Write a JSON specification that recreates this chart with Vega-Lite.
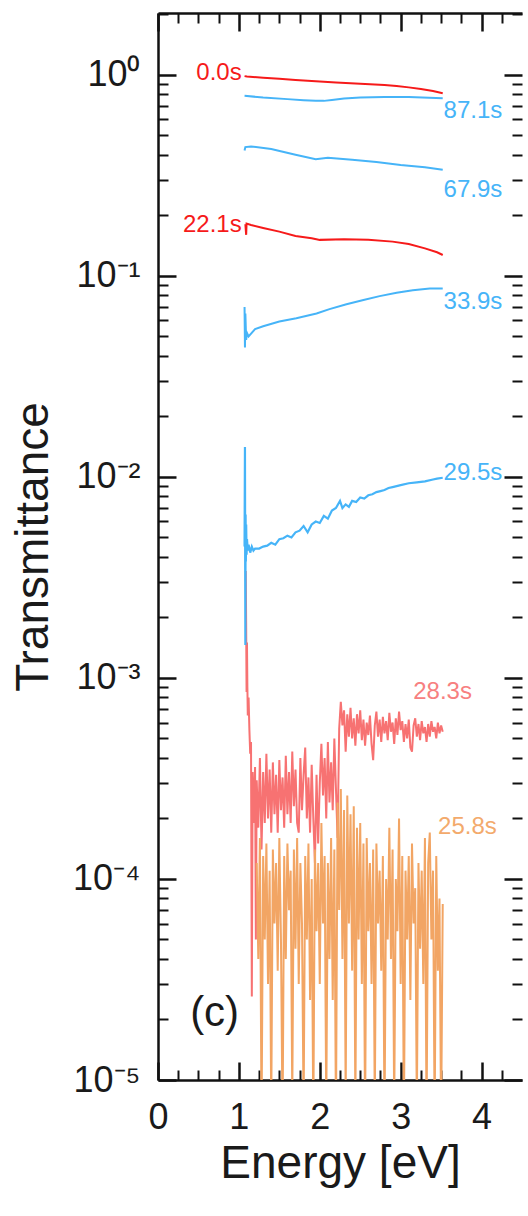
{
"$schema": "https://vega.github.io/schema/vega-lite/v6.json",
"width": 364,
"height": 1067,
"autosize": {"type": "none"},
"padding": {"left": 158, "top": 13, "right": 6, "bottom": 136},
"config": {"view": {"stroke": null}, "font": "Liberation Sans", "axis": {"grid": false}},
"datasets": {
"s00": [{"e":1.07,"t":0.985},{"e":1.1,"t":0.98},{"e":1.3,"t":0.968},{"e":1.5,"t":0.955},{"e":1.7,"t":0.942},{"e":1.9,"t":0.932},{"e":2.0,"t":0.926},{"e":2.2,"t":0.915},{"e":2.5,"t":0.902},{"e":2.8,"t":0.89},{"e":2.95,"t":0.88},{"e":3.1,"t":0.866},{"e":3.25,"t":0.849},{"e":3.4,"t":0.83},{"e":3.52,"t":0.81}],
"s871": [{"e":1.07,"t":0.786},{"e":1.3,"t":0.771},{"e":1.6,"t":0.757},{"e":1.8,"t":0.748},{"e":1.95,"t":0.743},{"e":2.05,"t":0.742},{"e":2.15,"t":0.75},{"e":2.3,"t":0.762},{"e":2.5,"t":0.771},{"e":2.8,"t":0.775},{"e":3.1,"t":0.775},{"e":3.52,"t":0.765}],
"s679": [{"e":1.07,"t":0.42},{"e":1.08,"t":0.437},{"e":1.15,"t":0.44},{"e":1.4,"t":0.428},{"e":1.7,"t":0.40},{"e":1.95,"t":0.38},{"e":2.1,"t":0.387},{"e":2.4,"t":0.378},{"e":2.7,"t":0.368},{"e":3.0,"t":0.356},{"e":3.3,"t":0.347},{"e":3.52,"t":0.337}],
"s221": [{"e":1.08,"t":0.181},{"e":1.09,"t":0.16},{"e":1.095,"t":0.182},{"e":1.15,"t":0.179},{"e":1.3,"t":0.173},{"e":1.5,"t":0.166},{"e":1.7,"t":0.158},{"e":1.9,"t":0.154},{"e":2.0,"t":0.151},{"e":2.3,"t":0.152},{"e":2.6,"t":0.151},{"e":2.9,"t":0.148},{"e":3.1,"t":0.144},{"e":3.3,"t":0.137},{"e":3.45,"t":0.131},{"e":3.52,"t":0.127}],
"s339": [{"e":1.07,"t":0.07},{"e":1.075,"t":0.044},{"e":1.08,"t":0.065},{"e":1.09,"t":0.048},{"e":1.1,"t":0.052},{"e":1.12,"t":0.05},{"e":1.2,"t":0.0543},{"e":1.3,"t":0.0561},{"e":1.5,"t":0.0593},{"e":1.71,"t":0.0616},{"e":1.96,"t":0.065},{"e":2.12,"t":0.0683},{"e":2.33,"t":0.0722},{"e":2.54,"t":0.0758},{"e":2.74,"t":0.0793},{"e":2.95,"t":0.0824},{"e":3.15,"t":0.0849},{"e":3.36,"t":0.0865},{"e":3.52,"t":0.0866}],
"s295": [{"e":1.07,"t":0.0045},{"e":1.075,"t":0.0141},{"e":1.078,"t":0.0035},{"e":1.08,"t":0.00146},{"e":1.083,"t":0.0065},{"e":1.086,"t":0.0038},{"e":1.09,"t":0.0058},{"e":1.095,"t":0.0041},{"e":1.1,"t":0.0049},{"e":1.11,"t":0.0043},{"e":1.12,"t":0.0046},{"e":1.14,"t":0.0042},{"e":1.16,"t":0.0045},{"e":1.18,"t":0.0043},{"e":1.2,"t":0.0044},{"e":1.25,"t":0.0044},{"e":1.3,"t":0.0045},{"e":1.35,"t":0.00455},{"e":1.4,"t":0.0047},{"e":1.45,"t":0.0046},{"e":1.5,"t":0.0049},{"e":1.55,"t":0.00495},{"e":1.6,"t":0.0051},{"e":1.65,"t":0.005},{"e":1.7,"t":0.0053},{"e":1.75,"t":0.0054},{"e":1.8,"t":0.0057},{"e":1.85,"t":0.0053},{"e":1.9,"t":0.0058},{"e":1.95,"t":0.006},{"e":2.0,"t":0.0059},{"e":2.05,"t":0.0064},{"e":2.1,"t":0.0062},{"e":2.15,"t":0.0068},{"e":2.2,"t":0.007},{"e":2.25,"t":0.0076},{"e":2.28,"t":0.007},{"e":2.32,"t":0.0073},{"e":2.36,"t":0.0071},{"e":2.4,"t":0.0076},{"e":2.45,"t":0.0075},{"e":2.5,"t":0.0079},{"e":2.55,"t":0.0078},{"e":2.6,"t":0.0081},{"e":2.65,"t":0.0082},{"e":2.7,"t":0.0084},{"e":2.75,"t":0.0085},{"e":2.8,"t":0.0086},{"e":2.85,"t":0.0088},{"e":2.9,"t":0.0089},{"e":2.95,"t":0.009},{"e":3.0,"t":0.0091},{"e":3.1,"t":0.0093},{"e":3.2,"t":0.0094},{"e":3.3,"t":0.0095},{"e":3.4,"t":0.0097},{"e":3.45,"t":0.0098},{"e":3.52,"t":0.0099}],
"s283": [{"e":1.085,"t":0.0034},{"e":1.09,"t":0.0018},{"e":1.095,"t":0.00085},{"e":1.1,"t":0.0015},{"e":1.105,"t":0.0009},{"e":1.11,"t":0.00065},{"e":1.12,"t":0.0008},{"e":1.13,"t":0.00055},{"e":1.14,"t":0.00042},{"e":1.15,"t":0.00048},{"e":1.16,"t":0.000026},{"e":1.17,"t":0.00034},{"e":1.18,"t":0.00019},{"e":1.2,"t":0.00036},{"e":1.21,"t":0.00005},{"e":1.22,"t":0.00031},{"e":1.24,"t":0.00018},{"e":1.26,"t":0.0004},{"e":1.28,"t":0.00014},{"e":1.3,"t":0.00034},{"e":1.32,"t":0.00019},{"e":1.34,"t":0.00042},{"e":1.36,"t":0.0002},{"e":1.38,"t":0.00035},{"e":1.4,"t":0.00017},{"e":1.42,"t":0.00038},{"e":1.44,"t":0.00021},{"e":1.46,"t":0.00033},{"e":1.48,"t":0.00017},{"e":1.5,"t":0.00039},{"e":1.52,"t":0.00022},{"e":1.54,"t":0.00032},{"e":1.56,"t":0.00018},{"e":1.58,"t":0.00041},{"e":1.6,"t":0.00021},{"e":1.62,"t":0.00034},{"e":1.64,"t":0.00019},{"e":1.66,"t":0.00043},{"e":1.68,"t":0.00023},{"e":1.7,"t":0.00035},{"e":1.72,"t":0.00019},{"e":1.74,"t":0.00017},{"e":1.76,"t":0.0004},{"e":1.78,"t":0.00022},{"e":1.8,"t":0.00033},{"e":1.82,"t":0.00045},{"e":1.84,"t":0.0002},{"e":1.86,"t":0.00032},{"e":1.88,"t":0.00017},{"e":1.9,"t":0.00037},{"e":1.92,"t":0.0002},{"e":1.94,"t":0.00012},{"e":1.96,"t":0.00033},{"e":1.98,"t":0.00015},{"e":2.0,"t":0.0003},{"e":2.02,"t":0.00047},{"e":2.04,"t":0.00026},{"e":2.06,"t":0.0004},{"e":2.08,"t":0.0002},{"e":2.1,"t":0.00048},{"e":2.12,"t":0.00024},{"e":2.14,"t":0.00038},{"e":2.16,"t":0.00022},{"e":2.18,"t":0.0005},{"e":2.2,"t":0.00028},{"e":2.22,"t":0.00016},{"e":2.24,"t":0.00056},{"e":2.26,"t":0.00076},{"e":2.28,"t":0.00058},{"e":2.3,"t":0.00069},{"e":2.32,"t":0.00043},{"e":2.34,"t":0.00066},{"e":2.36,"t":0.00051},{"e":2.38,"t":0.00071},{"e":2.4,"t":0.0005},{"e":2.42,"t":0.00063},{"e":2.44,"t":0.00046},{"e":2.46,"t":0.00066},{"e":2.48,"t":0.00053},{"e":2.5,"t":0.00069},{"e":2.52,"t":0.00049},{"e":2.54,"t":0.00062},{"e":2.56,"t":0.00046},{"e":2.58,"t":0.0006},{"e":2.6,"t":0.00052},{"e":2.62,"t":0.00065},{"e":2.64,"t":0.00047},{"e":2.66,"t":0.00039},{"e":2.68,"t":0.00058},{"e":2.7,"t":0.00068},{"e":2.72,"t":0.00051},{"e":2.74,"t":0.00062},{"e":2.76,"t":0.00048},{"e":2.78,"t":0.00064},{"e":2.8,"t":0.00053},{"e":2.82,"t":0.00061},{"e":2.84,"t":0.00049},{"e":2.86,"t":0.00067},{"e":2.88,"t":0.00054},{"e":2.9,"t":0.0006},{"e":2.92,"t":0.00047},{"e":2.94,"t":0.00063},{"e":2.96,"t":0.00052},{"e":2.98,"t":0.00068},{"e":3.0,"t":0.00055},{"e":3.02,"t":0.00061},{"e":3.04,"t":0.00048},{"e":3.06,"t":0.00059},{"e":3.08,"t":0.0005},{"e":3.1,"t":0.00062},{"e":3.12,"t":0.00045},{"e":3.14,"t":0.00043},{"e":3.16,"t":0.00058},{"e":3.18,"t":0.00063},{"e":3.2,"t":0.00051},{"e":3.22,"t":0.00059},{"e":3.24,"t":0.00049},{"e":3.26,"t":0.00061},{"e":3.28,"t":0.00053},{"e":3.3,"t":0.00057},{"e":3.32,"t":0.00048},{"e":3.34,"t":0.00059},{"e":3.36,"t":0.00051},{"e":3.38,"t":0.00061},{"e":3.4,"t":0.00054},{"e":3.42,"t":0.00057},{"e":3.44,"t":0.0005},{"e":3.46,"t":0.0006},{"e":3.48,"t":0.00053},{"e":3.5,"t":0.00058},{"e":3.52,"t":0.00054}],
"s258": [{"e":1.22,"t":0.00012},{"e":1.24,"t":0.00004},{"e":1.26,"t":0.00016},{"e":1.28,"t":0.000006},{"e":1.3,"t":0.00013},{"e":1.32,"t":0.00005},{"e":1.34,"t":0.00015},{"e":1.36,"t":0.00003},{"e":1.38,"t":0.00011},{"e":1.4,"t":0.000007},{"e":1.42,"t":0.00014},{"e":1.44,"t":0.00006},{"e":1.46,"t":0.00012},{"e":1.48,"t":0.000035},{"e":1.5,"t":0.00016},{"e":1.52,"t":0.00005},{"e":1.54,"t":0.000006},{"e":1.56,"t":0.00013},{"e":1.58,"t":0.00004},{"e":1.6,"t":0.00015},{"e":1.62,"t":0.00007},{"e":1.64,"t":0.00011},{"e":1.66,"t":0.000008},{"e":1.68,"t":0.00014},{"e":1.7,"t":0.000045},{"e":1.72,"t":0.00016},{"e":1.74,"t":0.00003},{"e":1.76,"t":0.00012},{"e":1.78,"t":0.00006},{"e":1.8,"t":0.000007},{"e":1.82,"t":0.00013},{"e":1.84,"t":0.00005},{"e":1.86,"t":0.00015},{"e":1.88,"t":0.000025},{"e":1.9,"t":0.0001},{"e":1.92,"t":0.000006},{"e":1.94,"t":0.00014},{"e":1.96,"t":0.000055},{"e":1.98,"t":0.00012},{"e":2.0,"t":0.00003},{"e":2.02,"t":0.00019},{"e":2.04,"t":0.00006},{"e":2.06,"t":0.00013},{"e":2.08,"t":0.000007},{"e":2.1,"t":0.00012},{"e":2.12,"t":0.00004},{"e":2.14,"t":0.00016},{"e":2.16,"t":0.000025},{"e":2.18,"t":0.00014},{"e":2.2,"t":0.000006},{"e":2.22,"t":0.00024},{"e":2.24,"t":0.00007},{"e":2.26,"t":0.00028},{"e":2.28,"t":0.00004},{"e":2.3,"t":0.00022},{"e":2.32,"t":0.000008},{"e":2.34,"t":0.00026},{"e":2.36,"t":0.00006},{"e":2.38,"t":0.00021},{"e":2.4,"t":0.000035},{"e":2.42,"t":0.00023},{"e":2.44,"t":0.000007},{"e":2.46,"t":0.00018},{"e":2.48,"t":0.00005},{"e":2.5,"t":0.00019},{"e":2.52,"t":0.00003},{"e":2.54,"t":0.00015},{"e":2.56,"t":0.000006},{"e":2.58,"t":0.00016},{"e":2.6,"t":0.000055},{"e":2.62,"t":0.00012},{"e":2.64,"t":0.00003},{"e":2.66,"t":0.00014},{"e":2.68,"t":0.000007},{"e":2.7,"t":0.00015},{"e":2.72,"t":0.00006},{"e":2.74,"t":0.00011},{"e":2.76,"t":0.000035},{"e":2.78,"t":0.00013},{"e":2.8,"t":0.000006},{"e":2.82,"t":0.0001},{"e":2.84,"t":0.00005},{"e":2.86,"t":0.00018},{"e":2.88,"t":0.00004},{"e":2.9,"t":0.00014},{"e":2.92,"t":0.000007},{"e":2.94,"t":0.0001},{"e":2.96,"t":0.000055},{"e":2.98,"t":0.0002},{"e":3.0,"t":0.00003},{"e":3.02,"t":0.00013},{"e":3.04,"t":0.000006},{"e":3.06,"t":0.00011},{"e":3.08,"t":0.00005},{"e":3.1,"t":0.00013},{"e":3.12,"t":0.000025},{"e":3.14,"t":0.00015},{"e":3.16,"t":0.00006},{"e":3.18,"t":0.00009},{"e":3.2,"t":0.000007},{"e":3.22,"t":0.00012},{"e":3.24,"t":0.000045},{"e":3.26,"t":0.00011},{"e":3.28,"t":0.00003},{"e":3.3,"t":0.00016},{"e":3.32,"t":0.000006},{"e":3.34,"t":0.00012},{"e":3.36,"t":0.00017},{"e":3.38,"t":0.00005},{"e":3.4,"t":0.00011},{"e":3.42,"t":0.000006},{"e":3.44,"t":0.00013},{"e":3.46,"t":0.000035},{"e":3.48,"t":0.00008},{"e":3.5,"t":0.000006},{"e":3.52,"t":0.000075}],
"labL": [{"label":"0.0s","e":1.035,"t":1.02},{"label":"22.1s","e":1.035,"t":0.179}],
"labR": [{"label":"87.1s","e":3.53,"t":0.657},{"label":"67.9s","e":3.53,"t":0.268},{"label":"33.9s","e":3.53,"t":0.0745},{"label":"29.5s","e":3.53,"t":0.0104},{"label":"28.3s","e":3.155,"t":0.000855},{"label":"25.8s","e":3.463,"t":0.000182}],
"panel": [{"label":"(c)","e":0.70,"t":0.0000215}]
},
"encoding": {
"x": {"field":"e","type":"quantitative","scale":{"domain":[0,4.5],"nice":false,"zero":false},"axis":null},
"y": {"field":"t","type":"quantitative","scale":{"type":"log","domain":[0.00001,2.03],"nice":false},"axis":null}
},
"layer": [
{"data":{"name":"s00"},"mark":{"type":"line","color":"#f61a1a","strokeWidth":2,"clip":true},
 "encoding":{
  "x":{"field":"e","type":"quantitative","scale":{"domain":[0,4.5],"nice":false,"zero":false},
   "axis":{"orient":"bottom","values":[0,1,2,3,4],"ticks":false,"domain":true,"domainWidth":2.5,"domainColor":"#111111","labelFlush":false,"labelOverlap":false,"labelFontSize":36,"labelPadding":20,"labelColor":"#1a1a1a","labelFont":"Liberation Sans","title":"Energy [eV]","titleFont":"Liberation Sans","titleFontSize":46,"titleFontWeight":"normal","titleColor":"#1a1a1a","titlePadding":6}},
  "y":{"field":"t","type":"quantitative","scale":{"type":"log","domain":[0.00001,2.03],"nice":false},
   "axis":{"orient":"left","values":[0.00001,0.0001,0.001,0.01,0.1,1],"labelExpr":"datum.value >= 0.5 ? '10⁰' : datum.value >= 0.05 ? '10⁻¹' : datum.value >= 0.005 ? '10⁻²' : datum.value >= 0.0005 ? '10⁻³' : datum.value >= 0.00005 ? '10⁻⁴' : '10⁻⁵'","ticks":false,"domain":true,"domainWidth":2.5,"domainColor":"#111111","labelFlush":false,"labelOverlap":false,"labelFontSize":36,"labelPadding":18,"labelColor":"#1a1a1a","labelFont":"Liberation Sans","title":"Transmittance","titleFont":"Liberation Sans","titleFontSize":46,"titleFontWeight":"normal","titleColor":"#1a1a1a","titlePadding":15}}}},
{"data":{"name":"s221"},"mark":{"type":"line","color":"#f61a1a","strokeWidth":2,"clip":true},
 "encoding":{
  "x":{"field":"e","type":"quantitative","scale":{"domain":[0,4.5],"nice":false,"zero":false},
   "axis":{"orient":"bottom","offset":-18,"values":[0,1,2,3,4],"labels":false,"ticks":true,"tickSize":18,"tickWidth":2.5,"tickColor":"#111111","domain":false,"title":null}},
  "y":{"field":"t","type":"quantitative","scale":{"type":"log","domain":[0.00001,2.03],"nice":false},
   "axis":{"orient":"left","offset":-18,"values":[0.00001,0.0001,0.001,0.01,0.1,1],"labels":false,"ticks":true,"tickSize":18,"tickWidth":2.5,"tickColor":"#111111","domain":false,"title":null}}}},
{"data":{"name":"s283"},"mark":{"type":"line","color":"#f77272","strokeWidth":2,"clip":true},
 "encoding":{
  "x":{"field":"e","type":"quantitative","scale":{"domain":[0,4.5],"nice":false,"zero":false},
   "axis":{"orient":"bottom","offset":-10,"values":[0.25,0.5,0.75,1.25,1.5,1.75,2.25,2.5,2.75,3.25,3.5,3.75,4.25],"labels":false,"ticks":true,"tickSize":10,"tickWidth":2,"tickColor":"#111111","domain":false,"title":null}},
  "y":{"field":"t","type":"quantitative","scale":{"type":"log","domain":[0.00001,2.03],"nice":false},
   "axis":{"orient":"left","offset":-10,"values":[0.00002,0.00003,0.00004,0.00005,0.00006,0.00007,0.00008,0.00009,0.0002,0.0003,0.0004,0.0005,0.0006,0.0007,0.0008,0.0009,0.002,0.003,0.004,0.005,0.006,0.007,0.008,0.009,0.02,0.03,0.04,0.05,0.06,0.07,0.08,0.09,0.2,0.3,0.4,0.5,0.6,0.7,0.8,0.9,2],"labels":false,"ticks":true,"tickSize":10,"tickWidth":2,"tickColor":"#111111","domain":false,"title":null}}}},
{"data":{"name":"s258"},"mark":{"type":"line","color":"#f2a564","strokeWidth":2,"clip":true},
 "encoding":{
  "x":{"field":"e","type":"quantitative","scale":{"domain":[0,4.5],"nice":false,"zero":false},
   "axis":{"orient":"top","values":[0,1,2,3,4],"labels":false,"ticks":false,"domain":true,"domainWidth":2.5,"domainColor":"#111111","title":null}},
  "y":{"field":"t","type":"quantitative","scale":{"type":"log","domain":[0.00001,2.03],"nice":false},
   "axis":{"orient":"right","offset":-18,"values":[0.00001,0.0001,0.001,0.01,0.1,1],"labels":false,"ticks":true,"tickSize":18,"tickWidth":2.5,"tickColor":"#111111","domain":false,"title":null}}}},
{"data":{"name":"s295"},"mark":{"type":"line","color":"#46b4f8","strokeWidth":2.2,"clip":true},
 "encoding":{
  "x":{"field":"e","type":"quantitative","scale":{"domain":[0,4.5],"nice":false,"zero":false},
   "axis":{"orient":"top","offset":-18,"values":[0,1,2,3,4],"labels":false,"ticks":true,"tickSize":18,"tickWidth":2.5,"tickColor":"#111111","domain":false,"title":null}},
  "y":{"field":"t","type":"quantitative","scale":{"type":"log","domain":[0.00001,2.03],"nice":false},
   "axis":{"orient":"right","offset":-10,"values":[0.00002,0.00003,0.00004,0.00005,0.00006,0.00007,0.00008,0.00009,0.0002,0.0003,0.0004,0.0005,0.0006,0.0007,0.0008,0.0009,0.002,0.003,0.004,0.005,0.006,0.007,0.008,0.009,0.02,0.03,0.04,0.05,0.06,0.07,0.08,0.09,0.2,0.3,0.4,0.5,0.6,0.7,0.8,0.9,2],"labels":false,"ticks":true,"tickSize":10,"tickWidth":2,"tickColor":"#111111","domain":false,"title":null}}}},
{"data":{"name":"s339"},"mark":{"type":"line","color":"#46b4f8","strokeWidth":2,"clip":true},
 "encoding":{
  "x":{"field":"e","type":"quantitative","scale":{"domain":[0,4.5],"nice":false,"zero":false},
   "axis":{"orient":"top","offset":-10,"values":[0.25,0.5,0.75,1.25,1.5,1.75,2.25,2.5,2.75,3.25,3.5,3.75,4.25],"labels":false,"ticks":true,"tickSize":10,"tickWidth":2,"tickColor":"#111111","domain":false,"title":null}}}},
{"data":{"name":"s679"},"mark":{"type":"line","color":"#46b4f8","strokeWidth":2,"clip":true}},
{"data":{"name":"s871"},"mark":{"type":"line","color":"#46b4f8","strokeWidth":2,"clip":true}},
{"data":{"name":"labL"},"mark":{"type":"text","align":"right","baseline":"middle","font":"Liberation Sans","fontSize":24},
 "encoding":{"text":{"field":"label"},"color":{"field":"label","type":"nominal","scale":{"domain":["0.0s","22.1s","87.1s","67.9s","33.9s","29.5s","28.3s","25.8s"],"range":["#f61a1a","#f61a1a","#46b4f8","#46b4f8","#46b4f8","#46b4f8","#f78080","#f3aa6c"]},"legend":null}}},
{"data":{"name":"labR"},"mark":{"type":"text","align":"left","baseline":"middle","font":"Liberation Sans","fontSize":24},
 "encoding":{"text":{"field":"label"},"color":{"field":"label","type":"nominal","scale":{"domain":["0.0s","22.1s","87.1s","67.9s","33.9s","29.5s","28.3s","25.8s"],"range":["#f61a1a","#f61a1a","#46b4f8","#46b4f8","#46b4f8","#46b4f8","#f78080","#f3aa6c"]},"legend":null}}},
{"data":{"name":"panel"},"mark":{"type":"text","align":"center","baseline":"middle","font":"Liberation Sans","fontSize":42,"color":"#1a1a1a"},
 "encoding":{"text":{"field":"label"}}}
],
"resolve": {"axis": {"x": "independent", "y": "independent"}}
}
